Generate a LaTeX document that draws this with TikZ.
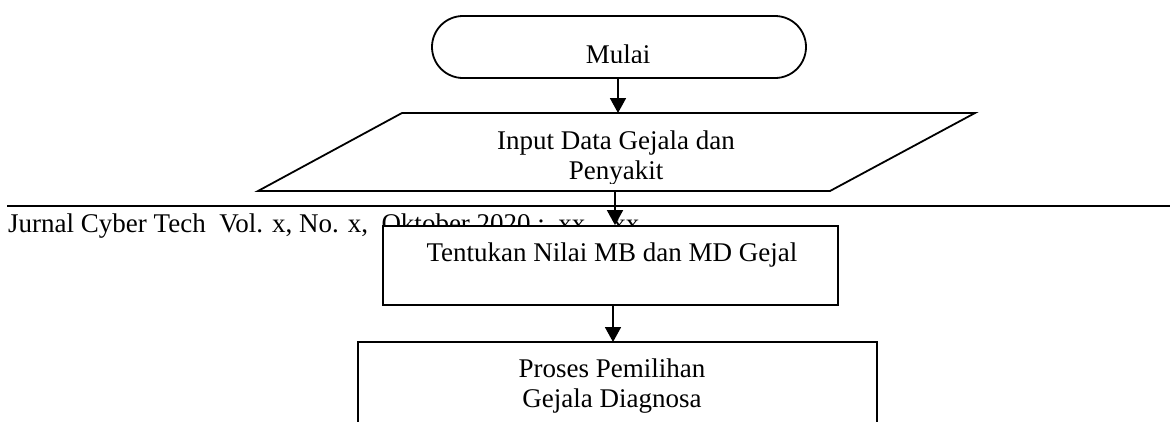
\documentclass[tikz,border=0pt]{standalone}
\usepackage{fontspec}
\setmainfont{Liberation Serif}
\usetikzlibrary{arrows.meta}
\tikzset{
  flowline/.style={line width=1.8pt},
  flowarrow/.style={flowline, -{Triangle[width=16pt,length=15pt]}},
  flowbox/.style={draw, line width=1.8pt, fill=white, inner sep=0pt},
  label text/.style={font=\fontsize{27}{30}\selectfont, inner sep=0pt, align=center},
}
\begin{document}
\begin{tikzpicture}[x=1pt, y=-1pt]
\useasboundingbox (0,0) rectangle (1170,421);
\clip (0,0) rectangle (1170,421);

% start terminal
\node[flowbox, rounded corners=31pt, minimum width=374pt, minimum height=62pt] (start) at (619,47) {};
\begin{scope}
  \clip (440,20) rectangle (800,62);
  \node[label text, anchor=base] (startlbl) at (618,63) {Mulai};
\end{scope}

% input parallelogram
\draw[flowline, fill=white] (258,191) -- (402,113) -- (975,113) -- (830,191) -- cycle;
\coordinate (inputtop) at (618,113);
\coordinate (inputbot) at (615,191);
\begin{scope}
  \clip (300,118) rectangle (900,183);
  \node[label text, anchor=base] (inputa) at (616,149) {Input Data Gejala dan};
  \node[label text, anchor=base] (inputb) at (616,179) {Penyakit};
\end{scope}

\draw[flowarrow] (start.south -| inputtop) -- (inputtop);

% running page header
\coordinate (ruleL) at (7,206);
\coordinate (ruleR) at (1170,206);
\draw[line width=1.8pt] (ruleL) -- (ruleR);
\node[label text, anchor=base west] (header) at (8,232)
  {Jurnal Cyber Tech\ \ Vol. x, No. x,\ \ Oktober 2020 :\ \ xx -- xx};

% MB / MD step
\node[flowbox, minimum width=455pt, minimum height=79pt] (mbmd) at (610.5,265.5) {};
\node[label text, anchor=base] (mbmdlbl) at (612,261) {Tentukan Nilai MB dan MD Gejal};

\draw[flowarrow] (inputbot) -- (inputbot |- mbmd.north);

% symptom selection step (runs past the lower edge)
\coordinate (selTL) at (358,342);
\coordinate (selTR) at (877,342);
\draw[flowline] (358,440) -- (selTL) -- (selTR) -- (877,440);
\node[label text, anchor=base] (sela) at (612,377) {Proses Pemilihan};
\node[label text, anchor=base] (selb) at (612,407) {Gejala Diagnosa};

\draw[flowarrow] (613,0 |- mbmd.south) -- (613,342);
\end{tikzpicture}
\end{document}
